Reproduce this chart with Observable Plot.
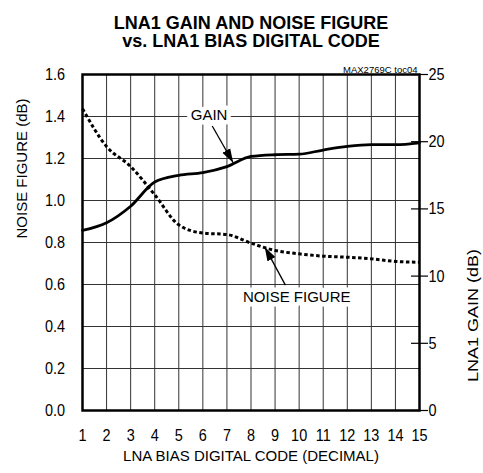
<!DOCTYPE html>
<html><head><meta charset="utf-8">
<script src="https://cdn.jsdelivr.net/npm/d3@7"></script>
<script src="https://cdn.jsdelivr.net/npm/@observablehq/plot@0.6"></script>
<style>body{margin:0;background:#fff} svg{display:block}</style>
</head><body><div id="chart"></div>
<script>
const codes = [1, 2, 3, 4, 5, 6, 7, 8, 9, 10, 11, 12, 13, 14, 15];
const gainDb = [13.4, 13.97, 15.2, 17.0, 17.5, 17.7, 18.15, 18.9, 19.03, 19.07, 19.38, 19.65, 19.78, 19.78, 19.92];
const noiseFigureDb = [1.437, 1.257, 1.162, 1.027, 0.884, 0.845, 0.838, 0.797, 0.762, 0.746, 0.735, 0.730, 0.722, 0.710, 0.706];
const nfTicks = [0, 0.2, 0.4, 0.6, 0.8, 1.0, 1.2, 1.4, 1.6];
const gainTicks = [0, 5, 10, 15, 20, 25];
const titleLines = ["LNA1 GAIN AND NOISE FIGURE", "vs. LNA1 BIAS DIGITAL CODE"];
const noteText = "MAX2769C toc04";
const xLabel = "LNA BIAS DIGITAL CODE (DECIMAL)";
const yLabelLeft = "NOISE FIGURE (dB)";
const yLabelRight = "LNA1 GAIN (dB)";
const annotationLabels = ["GAIN", "NOISE FIGURE"];
const annotationX = [6.26, 9.9];
const annotationY = [1.405, 0.539];
const arrowFromX = [6.39, 9.43];
const arrowFromY = [1.355, 0.597];
const arrowToX = [7.26, 8.57];
const arrowToY = [1.18, 0.779];

const k = 1.6 / 25; // gain dB -> noise-figure axis units
const rows = codes.map((c, i) => ({code: c, gain: gainDb[i], nf: noiseFigureDb[i]}));
const notes = annotationLabels.map((t, i) => ({
  text: t, x: annotationX[i], y: annotationY[i],
  x1: arrowFromX[i], y1: arrowFromY[i], x2: arrowToX[i], y2: arrowToY[i]
}));
const font = '"Liberation Sans", Arial, Helvetica, sans-serif';
const gridStyle = {stroke: "#333", strokeOpacity: 1, strokeWidth: 1};
const tickFont = 17;

const plot = Plot.plot({
  width: 483, height: 473,
  marginLeft: 82, marginRight: 64, marginTop: 74, marginBottom: 63,
  style: {fontFamily: font, fontSize: "15px", background: "white", color: "black"},
  x: {domain: [1, 15]},
  y: {domain: [0, 1.6]},
  marks: [
    Plot.gridX(codes, gridStyle),
    Plot.gridY(nfTicks, gridStyle),
    Plot.axisX(codes, {tickSize: 0, tickPadding: 18, tickFormat: d => String(d), label: null, fontSize: tickFont}),
    Plot.axisY(nfTicks, {tickSize: 0, tickPadding: 17.5, tickFormat: d => d.toFixed(1), label: null, fontSize: tickFont}),
    Plot.axisY(gainTicks.map(g => g * k), {anchor: "right", tickSize: 17, dx: -9, strokeWidth: 1.2, tickFormat: () => "", label: null}),
    Plot.axisY(gainTicks.map(g => g * k), {anchor: "right", tickSize: 0, tickPadding: 9, tickFormat: d => String(Math.round(d / k)), label: null, fontSize: tickFont}),
    Plot.frame({strokeWidth: 2.5}),
    Plot.text(notes, {x: "x", y: "y", text: "text", stroke: "white", strokeWidth: 9, fill: "black", fontSize: 15}),
    Plot.line(rows, {x: "code", y: "nf", strokeWidth: 3, strokeDasharray: "3.5,2.5", strokeLinecap: "butt", curve: "monotone-x"}),
    Plot.line(rows, {x: "code", y: d => d.gain * k, strokeWidth: 2.8, curve: "monotone-x"}),
    Plot.link(notes, {x1: "x1", y1: "y1", x2: "x2", y2: "y2", strokeWidth: 1.3}),
    Plot.text([yLabelLeft], {text: d => d, frameAnchor: "left", rotate: -90, dx: -60.5, dy: -4, fontSize: 15}),
    Plot.text([yLabelRight], {text: d => d, frameAnchor: "right", rotate: -90, dx: 54, dy: 6.5, fontSize: 15}),
    Plot.text([xLabel], {text: d => d, frameAnchor: "bottom", dy: 50, fontSize: 15}),
    Plot.text([titleLines[0]], {text: d => d, frameAnchor: "top", lineAnchor: "bottom", dy: -46, fontSize: 18, fontWeight: "bold"}),
    Plot.text([titleLines[1]], {text: d => d, frameAnchor: "top", lineAnchor: "bottom", dy: -27.3, fontSize: 18, fontWeight: "bold"}),
    Plot.text([noteText], {text: d => d, frameAnchor: "top-right", textAnchor: "end", lineAnchor: "bottom", dx: -2, dy: -2, fontSize: 9.5})
  ]
});

const svg = d3.select(plot);
svg.append("defs").append("marker")
  .attr("id", "ahead").attr("viewBox", "-14 -5 15 10")
  .attr("markerWidth", 15).attr("markerHeight", 10)
  .attr("markerUnits", "userSpaceOnUse").attr("orient", "auto")
  .append("path").attr("d", "M-14,-4.5L0,0L-14,4.5Z").attr("fill", "black");
svg.selectAll('g[aria-label="link"] path').attr("marker-end", "url(#ahead)");
svg.selectAll("text").filter(function() { return this.textContent === yLabelRight; })
  .attr("textLength", 133).attr("lengthAdjust", "spacingAndGlyphs");
document.getElementById("chart").appendChild(plot);
// condensed look for tick labels
svg.selectAll('g[aria-label$="tick label"] text').each(function() {
  const len = this.getComputedTextLength();
  if (len > 0) d3.select(this).attr("textLength", len * 0.85).attr("lengthAdjust", "spacingAndGlyphs");
});
</script>
</body></html>
